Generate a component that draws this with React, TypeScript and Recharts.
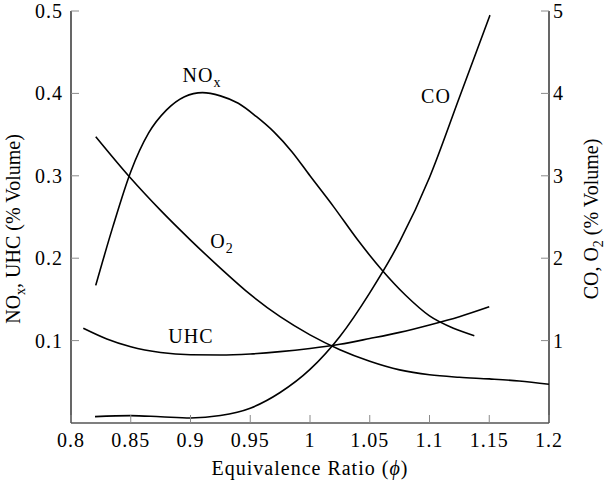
import React from 'react'
import { ComposedChart, Line, XAxis, YAxis, ReferenceDot } from 'recharts'

// Equivalence ratio samples and readings for each species
const noxPhi = [0.8207, 0.835, 0.85, 0.865, 0.88, 0.895, 0.91, 0.925, 0.94, 0.955, 0.97, 0.985, 1.0, 1.02, 1.04, 1.06, 1.08, 1.1, 1.12, 1.1375]
const noxValues = [0.167, 0.238, 0.305, 0.352, 0.38, 0.396, 0.401, 0.397, 0.388, 0.372, 0.353, 0.329, 0.3, 0.262, 0.222, 0.186, 0.155, 0.13, 0.115, 0.106]

const uhcPhi = [0.8103, 0.83, 0.85, 0.875, 0.9, 0.925, 0.95, 0.975, 1.0, 1.025, 1.05, 1.075, 1.1, 1.125, 1.15]
const uhcValues = [0.115, 0.102, 0.0925, 0.0855, 0.0828, 0.0825, 0.0838, 0.0866, 0.0905, 0.0955, 0.1025, 0.11, 0.119, 0.129, 0.141]

const o2Phi = [0.8207, 0.85, 0.875, 0.9, 0.925, 0.95, 0.975, 1.0, 1.025, 1.05, 1.075, 1.1, 1.125, 1.15, 1.175, 1.2]
const o2Values = [3.475, 2.97, 2.58, 2.22, 1.88, 1.56, 1.29, 1.07, 0.89, 0.75, 0.645, 0.585, 0.555, 0.535, 0.51, 0.47]

const coPhi = [0.8201, 0.85, 0.875, 0.9, 0.925, 0.95, 0.975, 1.0, 1.025, 1.05, 1.075, 1.1, 1.125, 1.1506]
const coValues = [0.077, 0.09, 0.075, 0.06, 0.09, 0.18, 0.37, 0.65, 1.05, 1.58, 2.2, 2.98, 3.95, 4.95]

const xTicks = [0.8, 0.85, 0.9, 0.95, 1, 1.05, 1.1, 1.15, 1.2]
const leftTicks = [0.1, 0.2, 0.3, 0.4, 0.5]
const rightTicks = [1, 2, 3, 4, 5]

// curve labels: [main text, subscript, phi, value, axis]
const curveLabels: [string, string, number, number, string][] = [
  ['NO', 'x', 0.9096, 0.4142, 'left'],
  ['UHC', '', 0.9004, 0.0971, 'left'],
  ['O', '2', 0.9264, 2.124, 'right'],
  ['CO', '', 1.1054, 3.883, 'right'],
]

const SERIF = "'Liberation Serif', 'DejaVu Serif', serif"
const TEXT_STYLE = { fontFamily: SERIF, letterSpacing: 1 }
const AXIS_TITLE_STYLE = { fontFamily: SERIF }
const TICK_LEN = 8
const TICK_COLOR = '#8a8a8a'

const zip = (xs: number[], ys: number[]) => xs.map((phi, i) => ({ phi, v: ys[i] }))

const noxData = zip(noxPhi, noxValues)
const uhcData = zip(uhcPhi, uhcValues)
const o2Data = zip(o2Phi, o2Values)
const coData = zip(coPhi, coValues)

function BottomTick(props: any) {
  const { x, y, payload } = props
  return (
    <g>
      <line x1={x} y1={y} x2={x} y2={y - TICK_LEN} stroke={TICK_COLOR} strokeWidth={1} />
      <text x={x} y={y + 24} textAnchor="middle" style={TEXT_STYLE} fontSize={20} fill="#000">
        {String(payload.value)}
      </text>
    </g>
  )
}

function TopTick(props: any) {
  const { x, y } = props
  return <line x1={x} y1={y} x2={x} y2={y + TICK_LEN} stroke={TICK_COLOR} strokeWidth={1} />
}

function LeftTick(props: any) {
  const { x, y, payload } = props
  return (
    <g>
      <line x1={x} y1={y} x2={x + TICK_LEN} y2={y} stroke={TICK_COLOR} strokeWidth={1} />
      <text x={x - 8} y={y + 7} textAnchor="end" style={TEXT_STYLE} fontSize={20} fill="#000">
        {String(payload.value)}
      </text>
    </g>
  )
}

function RightTick(props: any) {
  const { x, y, payload } = props
  return (
    <g>
      <line x1={x} y1={y} x2={x - TICK_LEN} y2={y} stroke={TICK_COLOR} strokeWidth={1} />
      <text x={x + 4} y={y + 7} textAnchor="start" style={TEXT_STYLE} fontSize={20} fill="#000">
        {String(payload.value)}
      </text>
    </g>
  )
}

function CurveLabel(main: string, sub: string) {
  return (p: any) => (
    <text x={p.cx} y={p.cy} textAnchor="middle" style={TEXT_STYLE} fontSize={20} fill="#000">
      {main}
      {sub && (
        <tspan dy={5} fontSize={14}>
          {sub}
        </tspan>
      )}
    </text>
  )
}

export default function App() {
  return (
    <div style={{ position: 'absolute', left: 0, top: 0, background: '#fff' }}>
      <ComposedChart width={608} height={482} margin={{ top: 11, right: 0, bottom: 0, left: 0 }}>
        <XAxis
          xAxisId="bottom"
          dataKey="phi"
          type="number"
          domain={[0.8, 1.2]}
          ticks={xTicks}
          allowDataOverflow
          height={59}
          tickSize={0}
          tickMargin={0}
          tickLine={false}
          axisLine={{ stroke: '#000', strokeWidth: 1.2 }}
          tick={<BottomTick />}
          label={{
            content: ({ viewBox }: any) => (
              <text
                x={viewBox.x + viewBox.width / 2}
                y={475}
                textAnchor="middle"
                style={TEXT_STYLE}
                fontSize={20}
                fill="#000"
              >
                Equivalence Ratio (<tspan fontStyle="italic">ϕ</tspan>)
              </text>
            ),
          }}
        />
        <XAxis
          xAxisId="top"
          orientation="top"
          dataKey="phi"
          type="number"
          domain={[0.8, 1.2]}
          ticks={xTicks}
          allowDataOverflow
          height={0}
          tickSize={0}
          tickMargin={0}
          tickLine={false}
          axisLine={{ stroke: '#000', strokeWidth: 1.2 }}
          tick={<TopTick />}
        />
        <YAxis
          yAxisId="left"
          type="number"
          domain={[0, 0.5]}
          ticks={leftTicks}
          allowDataOverflow
          width={71}
          tickSize={0}
          tickMargin={0}
          tickLine={false}
          axisLine={{ stroke: '#000', strokeWidth: 1.2 }}
          tick={<LeftTick />}
          label={{
            content: ({ viewBox }: any) => {
              const cy = viewBox.y + viewBox.height / 2 + 12
              return (
                <text
                  x={20}
                  y={cy}
                  transform={`rotate(-90, 20, ${cy})`}
                  textAnchor="middle"
                  style={AXIS_TITLE_STYLE}
                  fontSize={20}
                  fill="#000"
                >
                  NO<tspan dy={5} fontSize={14}>x</tspan>
                  <tspan dy={-5}>, UHC (% Volume)</tspan>
                </text>
              )
            },
          }}
        />
        <YAxis
          yAxisId="right"
          orientation="right"
          type="number"
          domain={[0, 5]}
          ticks={rightTicks}
          allowDataOverflow
          width={59}
          tickSize={0}
          tickMargin={0}
          tickLine={false}
          axisLine={{ stroke: '#000', strokeWidth: 1.2 }}
          tick={<RightTick />}
          label={{
            content: ({ viewBox }: any) => {
              const cy = viewBox.y + viewBox.height / 2 + 2
              return (
                <text
                  x={598}
                  y={cy}
                  transform={`rotate(-90, 598, ${cy})`}
                  textAnchor="middle"
                  style={AXIS_TITLE_STYLE}
                  fontSize={20}
                  fill="#000"
                >
                  CO, O<tspan dy={5} fontSize={14}>2</tspan>
                  <tspan dy={-5}> (% Volume)</tspan>
                </text>
              )
            },
          }}
        />

        <Line xAxisId="bottom" yAxisId="left" data={noxData} dataKey="v" type="monotone" stroke="#000" strokeWidth={1.6} dot={false} isAnimationActive={false} />
        <Line xAxisId="bottom" yAxisId="left" data={uhcData} dataKey="v" type="monotone" stroke="#000" strokeWidth={1.6} dot={false} isAnimationActive={false} />
        <Line xAxisId="bottom" yAxisId="right" data={o2Data} dataKey="v" type="monotone" stroke="#000" strokeWidth={1.6} dot={false} isAnimationActive={false} />
        <Line xAxisId="bottom" yAxisId="right" data={coData} dataKey="v" type="monotone" stroke="#000" strokeWidth={1.6} dot={false} isAnimationActive={false} />

        {curveLabels.map(([main, sub, phi, val, axis]) => (
          <ReferenceDot
            key={main}
            xAxisId="bottom"
            yAxisId={axis}
            x={phi}
            y={val}
            r={0}
            shape={CurveLabel(main, sub)}
          />
        ))}
      </ComposedChart>
    </div>
  )
}
